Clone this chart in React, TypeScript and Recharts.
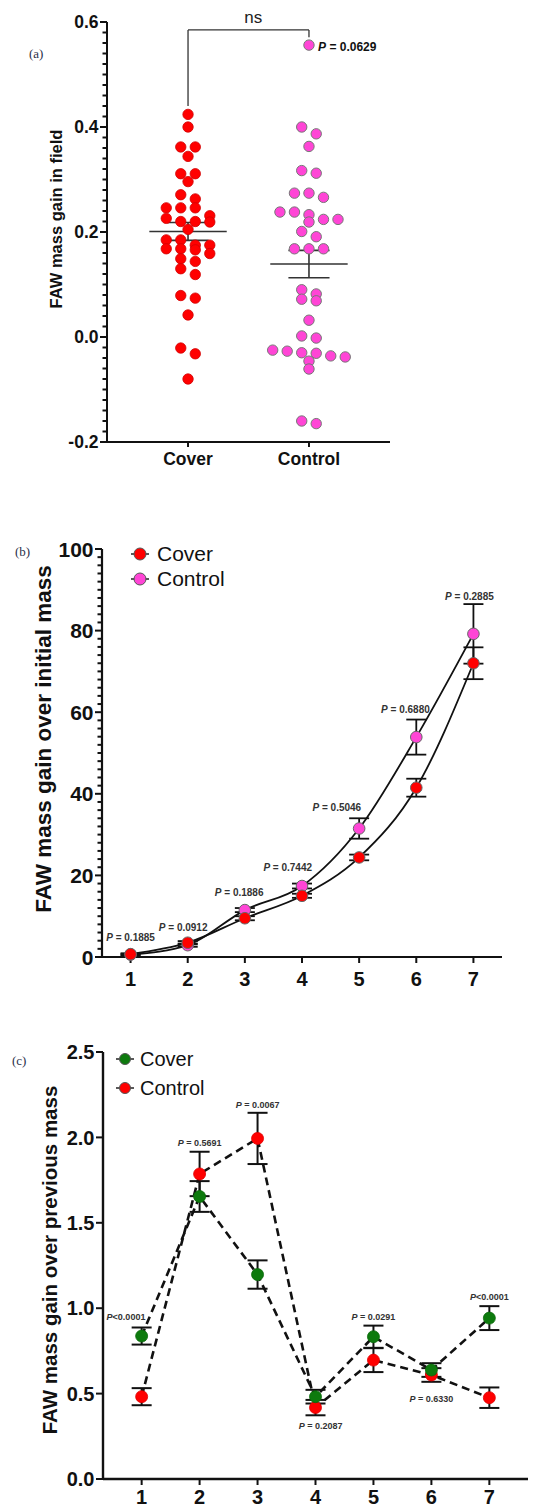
import React from 'react';
import {
  ScatterChart, Scatter, LineChart, Line, XAxis, YAxis, ErrorBar,
  ReferenceLine, ReferenceDot, Legend,
} from 'recharts';

const FONT = "'Liberation Sans', Arial, Helvetica, sans-serif";
const SERIF = "'Liberation Serif', 'DejaVu Serif', serif";
const INK = '#111';

// ---- (a) mass gain in field ----
const groups = ['Cover', 'Control'];
const coverField = [
  0.424, 0.400, 0.362, 0.362, 0.344, 0.311, 0.311, 0.296, 0.271, 0.263,
  0.246, 0.246, 0.246, 0.231, 0.226, 0.220, 0.220, 0.219, 0.205, 0.185,
  0.185, 0.175, 0.175, 0.168, 0.168, 0.166, 0.159, 0.149, 0.144, 0.130,
  0.119, 0.079, 0.074, 0.042, -0.021, -0.032, -0.080,
];
const controlField = [
  0.556, 0.400, 0.387, 0.363, 0.317, 0.312, 0.274, 0.274, 0.266, 0.238,
  0.238, 0.233, 0.224, 0.224, 0.219, 0.201, 0.191, 0.168, 0.168, 0.168,
  0.090, 0.082, 0.072, 0.069, 0.032, 0.002, -0.002, -0.025, -0.027, -0.030,
  -0.031, -0.036, -0.038, -0.046, -0.061, -0.160, -0.165,
];
const fieldMean = [0.201, 0.139];
const fieldSem = [0.017, 0.026];
const fieldP = ' = 0.0629';

// ---- (b) gain over initial mass ----
const days = [1, 2, 3, 4, 5, 6, 7];
const initCover = [0.7, 3.5, 9.5, 15.0, 24.4, 41.5, 72.0];
const initCoverErr = [0.2, 0.4, 0.5, 0.5, 0.7, 2.2, 3.9];
const initControl = [0.6, 2.9, 11.5, 17.4, 31.5, 53.9, 79.2];
const initControlErr = [0.2, 0.4, 0.5, 0.6, 2.5, 4.3, 7.3];
const initP = [' = 0.1885', ' = 0.0912', ' = 0.1886', ' = 0.7442', ' = 0.5046', ' = 0.6880', ' = 0.2885'];

// ---- (c) gain over previous mass ----
const prevCover = [0.837, 1.654, 1.197, 0.482, 0.833, 0.638, 0.942];
const prevCoverErr = [0.05, 0.09, 0.083, 0.04, 0.065, 0.04, 0.07];
const prevControl = [0.482, 1.786, 1.994, 0.418, 0.696, 0.609, 0.476];
const prevControlErr = [0.05, 0.13, 0.15, 0.045, 0.07, 0.04, 0.06];
const prevP = ['<0.0001', ' = 0.5691', ' = 0.0067', ' = 0.2087', ' = 0.0291', ' = 0.6330', '<0.0001'];

const RED = '#ff0000';
const PINK = '#ff45d6';
const GREEN = '#0d7a0d';

// where the p-value texts sit, in data units
const initPPos = [[1.0, 3.9], [1.92, 6.3], [2.9, 15.0], [3.75, 21.1], [4.61, 35.8], [5.81, 59.9], [6.93, 87.4]];
const prevPPos = [[0.73, 0.93], [2.0, 1.95], [3.0, 2.17], [4.09, 0.29], [5.0, 0.93], [6.0, 0.45], [7.0, 1.05]];

// simple row-binned beeswarm like Prism draws it
function swarm(values: number[], center: number, binH: number, step: number) {
  const sorted = [...values].sort((a, b) => b - a);
  const out: { x: number; y: number }[] = [];
  let i = 0;
  while (i < sorted.length) {
    const row = [sorted[i]];
    let j = i + 1;
    while (j < sorted.length && sorted[i] - sorted[j] < binH) {
      row.push(sorted[j]);
      j++;
    }
    row.forEach((v, k) => out.push({ x: center + (k - (row.length - 1) / 2) * step, y: v }));
    i = j;
  }
  return out;
}

function range(lo: number, hi: number, step: number) {
  const out: number[] = [];
  const n = Math.round((hi - lo) / step);
  for (let i = 0; i <= n; i++) out.push(Math.round((lo + i * step) * 1000) / 1000);
  return out;
}

// y tick with long major / short minor marks, label on majors only
function makeYTick(every: number, digits: number, fontSize: number) {
  return (props: any) => {
    const { x, y, payload } = props;
    const v = payload.value;
    const q = v / every;
    const major = Math.abs(q - Math.round(q)) < 1e-6;
    return (
      <g>
        <line x1={x - (major ? 7 : 4.5)} x2={x} y1={y} y2={y} stroke={INK} strokeWidth={2} />
        {major && (
          <text x={x - 8.5} y={y} dy="0.36em" textAnchor="end" fontFamily={FONT} fontSize={fontSize} fontWeight={700} fill={INK}>
            {v.toFixed(digits)}
          </text>
        )}
      </g>
    );
  };
}

function yTitle(text: string, cx: number, cy: number, size: number) {
  return () => (
    <text x={cx} y={cy} dy="0.36em" transform={`rotate(-90 ${cx} ${cy})`} textAnchor="middle"
      fontFamily={FONT} fontSize={size} fontWeight={700} fill={INK}>
      {text}
    </text>
  );
}

function pText(text: string, size: number, anchor: string, color: string) {
  return (p: any) => (
    <text x={p.cx} y={p.cy} textAnchor={anchor} fontFamily={FONT} fontSize={size} fontWeight={700} fill={color}>
      <tspan fontStyle="italic">P</tspan>{text}
    </text>
  );
}

function legendBox(colors: string[], r: number, size: number, rowH: number, gap: number) {
  return () => (
    <div style={{ fontFamily: FONT, fontSize: size, color: INK }}>
      {groups.map((g, i) => (
        <div key={g} style={{ display: 'flex', alignItems: 'center', height: rowH }}>
          <svg width={22} height={16} style={{ display: 'block' }}>
            <line x1={2} x2={20} y1={8} y2={8} stroke="#222" strokeWidth={1.5} />
            <circle cx={11} cy={8} r={r} fill={colors[i]} stroke="#555" strokeWidth={1} />
          </svg>
          <span style={{ marginLeft: gap, lineHeight: 1 }}>{g}</span>
        </div>
      ))}
    </div>
  );
}

function PanelTag({ text, left, top }: { text: string; left: number; top: number }) {
  return (
    <div style={{ position: 'absolute', left, top, fontFamily: SERIF, fontSize: 13, color: '#2b2f4a', lineHeight: 1 }}>
      {text}
    </div>
  );
}

function FieldChart() {
  const coverPts = swarm(coverField, 1, 0.015, 0.12);
  const controlPts = swarm(controlField, 2, 0.015, 0.12);
  const meanW = 0.32;
  const capW = 0.17;
  return (
    <ScatterChart width={545} height={480} margin={{ top: 22, right: 155, bottom: 8, left: 56 }}>
      <XAxis type="number" dataKey="x" domain={[0.33, 2.67]} ticks={[1, 2]} interval={0}
        tickFormatter={(v: number) => groups[v - 1]} allowDataOverflow height={30}
        axisLine={{ stroke: INK, strokeWidth: 2 }} tickLine={{ stroke: INK, strokeWidth: 2 }} tickSize={5} tickMargin={6}
        tick={{ fill: INK, fontSize: 17.5, fontWeight: 700, fontFamily: FONT }} />
      <YAxis type="number" dataKey="y" domain={[-0.2, 0.6]} ticks={range(-0.2, 0.6, 0.02)} interval={0} width={51}
        axisLine={{ stroke: INK, strokeWidth: 2 }} tickLine={false} tickSize={0} tickMargin={0}
        tick={makeYTick(0.2, 1, 17.5)}
        label={{ content: yTitle('FAW mass gain in field', 56, 219, 16.5) }} />
      <Scatter data={coverPts} isAnimationActive={false}
        shape={(p: any) => <circle cx={p.cx} cy={p.cy} r={5.2} fill={RED} stroke="#d00000" strokeWidth={0.8} />} />
      <Scatter data={controlPts} isAnimationActive={false}
        shape={(p: any) => <circle cx={p.cx} cy={p.cy} r={5.2} fill={PINK} stroke="#777" strokeWidth={1} />} />
      {fieldMean.map((m, i) => (
        <ReferenceLine key={`m${i}`} segment={[{ x: i + 1 - meanW, y: m }, { x: i + 1 + meanW, y: m }]} stroke="#333" strokeWidth={1.6} />
      ))}
      {fieldMean.map((m, i) => (
        <ReferenceLine key={`s${i}`} segment={[{ x: i + 1, y: m - fieldSem[i] }, { x: i + 1, y: m + fieldSem[i] }]} stroke="#333" strokeWidth={1.6} />
      ))}
      {fieldMean.map((m, i) => (
        <ReferenceLine key={`u${i}`} segment={[{ x: i + 1 - capW, y: m + fieldSem[i] }, { x: i + 1 + capW, y: m + fieldSem[i] }]} stroke="#333" strokeWidth={1.6} />
      ))}
      {fieldMean.map((m, i) => (
        <ReferenceLine key={`l${i}`} segment={[{ x: i + 1 - capW, y: m - fieldSem[i] }, { x: i + 1 + capW, y: m - fieldSem[i] }]} stroke="#333" strokeWidth={1.6} />
      ))}
      <ReferenceLine segment={[{ x: 1, y: 0.44 }, { x: 1, y: 0.585 }]} stroke="#333" strokeWidth={1.3} />
      <ReferenceLine segment={[{ x: 1, y: 0.585 }, { x: 2, y: 0.585 }]} stroke="#333" strokeWidth={1.3} />
      <ReferenceLine segment={[{ x: 2, y: 0.585 }, { x: 2, y: 0.571 }]} stroke="#333" strokeWidth={1.3} />
      <ReferenceDot x={1.54} y={0.598} r={1}
        shape={(p: any) => (
          <text x={p.cx} y={p.cy} textAnchor="middle" fontFamily={FONT} fontSize={17} fill="#222">ns</text>
        )} />
      <ReferenceDot x={2.075} y={0.544} r={1} shape={pText(fieldP, 12, 'start', INK)} />
    </ScatterChart>
  );
}

function InitialChart() {
  const rows = days.map((d, i) => ({
    day: d, cover: initCover[i], coverErr: initCoverErr[i], control: initControl[i], controlErr: initControlErr[i],
  }));
  return (
    <LineChart width={545} height={510} data={rows} margin={{ top: 59, right: 43, bottom: 8, left: 42 }}>
      <XAxis type="number" dataKey="day" domain={[0.5, 7.5]} ticks={days} interval={0} height={35}
        axisLine={{ stroke: INK, strokeWidth: 2.2 }} tickLine={{ stroke: INK, strokeWidth: 2 }} tickSize={6} tickMargin={9}
        tick={{ fill: INK, fontSize: 20, fontWeight: 700, fontFamily: FONT }} />
      <YAxis type="number" domain={[0, 100]} ticks={range(0, 100, 2)} interval={0} width={60}
        axisLine={{ stroke: INK, strokeWidth: 2.2 }} tickLine={false} tickSize={0} tickMargin={0}
        tick={makeYTick(20, 0, 21)}
        label={{ content: yTitle('FAW mass gain over initial mass', 42.5, 249, 22.5) }} />
      <Legend layout="vertical" align="center" verticalAlign="middle"
        wrapperStyle={{ left: 129, top: 51, width: 160 }} content={legendBox([RED, PINK], 6, 21, 25, 6)} />
      {/* lines and error bars first, markers drawn on top afterwards */}
      <Line dataKey="control" name="Control" type="monotone" stroke={INK} strokeWidth={1.8} isAnimationActive={false} dot={false} activeDot={false}>
        <ErrorBar dataKey="controlErr" direction="y" width={10} stroke={INK} strokeWidth={1.8} />
      </Line>
      <Line dataKey="cover" name="Cover" type="monotone" stroke={INK} strokeWidth={1.8} isAnimationActive={false} dot={false} activeDot={false}>
        <ErrorBar dataKey="coverErr" direction="y" width={10} stroke={INK} strokeWidth={1.8} />
      </Line>
      <Line dataKey="control" legendType="none" stroke="none" isAnimationActive={false} activeDot={false}
        dot={{ r: 5.8, fill: PINK, stroke: '#666', strokeWidth: 1 }} />
      <Line dataKey="cover" legendType="none" stroke="none" isAnimationActive={false} activeDot={false}
        dot={{ r: 5.8, fill: RED, stroke: '#666', strokeWidth: 1 }} />
      {initP.map((t, i) => (
        <ReferenceDot key={i} x={initPPos[i][0]} y={initPPos[i][1]} r={1} shape={pText(t, 10, 'middle', '#333')} />
      ))}
    </LineChart>
  );
}

function PreviousChart() {
  const rows = days.map((d, i) => ({
    day: d, cover: prevCover[i], coverErr: prevCoverErr[i], control: prevControl[i], controlErr: prevControlErr[i],
  }));
  return (
    <LineChart width={545} height={510} data={rows} margin={{ top: 52, right: 17, bottom: 3, left: 44 }}>
      <XAxis type="number" dataKey="day" domain={[0.333, 7.667]} ticks={days} interval={0} height={28}
        axisLine={{ stroke: INK, strokeWidth: 2.4 }} tickLine={{ stroke: INK, strokeWidth: 2 }} tickSize={6} tickMargin={5}
        tick={{ fill: INK, fontSize: 20, fontWeight: 700, fontFamily: FONT }} />
      <YAxis type="number" domain={[0, 2.5]} ticks={range(0, 2.5, 0.5)} interval={0} width={59}
        axisLine={{ stroke: INK, strokeWidth: 2.4 }} tickLine={false} tickSize={0} tickMargin={0}
        tick={makeYTick(0.5, 1, 20)}
        label={{ content: yTitle('FAW mass gain over previous mass', 50, 260, 20.5) }} />
      <Legend layout="vertical" align="center" verticalAlign="middle"
        wrapperStyle={{ left: 114, top: 44, width: 160 }} content={legendBox([GREEN, RED], 5.5, 20, 29, 4)} />
      <Line dataKey="control" name="Control" type="linear" stroke={INK} strokeWidth={2.6} strokeDasharray="8 5"
        isAnimationActive={false} dot={false} activeDot={false}>
        <ErrorBar dataKey="controlErr" direction="y" width={10} stroke={INK} strokeWidth={2} />
      </Line>
      <Line dataKey="cover" name="Cover" type="linear" stroke={INK} strokeWidth={2.6} strokeDasharray="8 5"
        isAnimationActive={false} dot={false} activeDot={false}>
        <ErrorBar dataKey="coverErr" direction="y" width={10} stroke={INK} strokeWidth={2} />
      </Line>
      <Line dataKey="control" legendType="none" stroke="none" isAnimationActive={false} activeDot={false}
        dot={{ r: 6, fill: RED, stroke: '#e00000', strokeWidth: 0.8 }} />
      <Line dataKey="cover" legendType="none" stroke="none" isAnimationActive={false} activeDot={false}
        dot={{ r: 6, fill: GREEN, stroke: '#0a6a0a', strokeWidth: 0.8 }} />
      {prevP.map((t, i) => (
        <ReferenceDot key={i} x={prevPPos[i][0]} y={prevPPos[i][1]} r={1} shape={pText(t, 9, 'middle', '#333')} />
      ))}
    </LineChart>
  );
}

export default function App() {
  return (
    <div style={{ position: 'absolute', left: 0, top: 0, width: 545, height: 1510, background: '#fff', overflow: 'hidden' }}>
      <div style={{ position: 'absolute', left: 0, top: 0 }}><FieldChart /></div>
      <div style={{ position: 'absolute', left: 0, top: 490 }}><InitialChart /></div>
      <div style={{ position: 'absolute', left: 0, top: 1000 }}><PreviousChart /></div>
      <PanelTag text="(a)" left={29} top={47} />
      <PanelTag text="(b)" left={15} top={545} />
      <PanelTag text="(c)" left={12} top={1054} />
    </div>
  );
}
